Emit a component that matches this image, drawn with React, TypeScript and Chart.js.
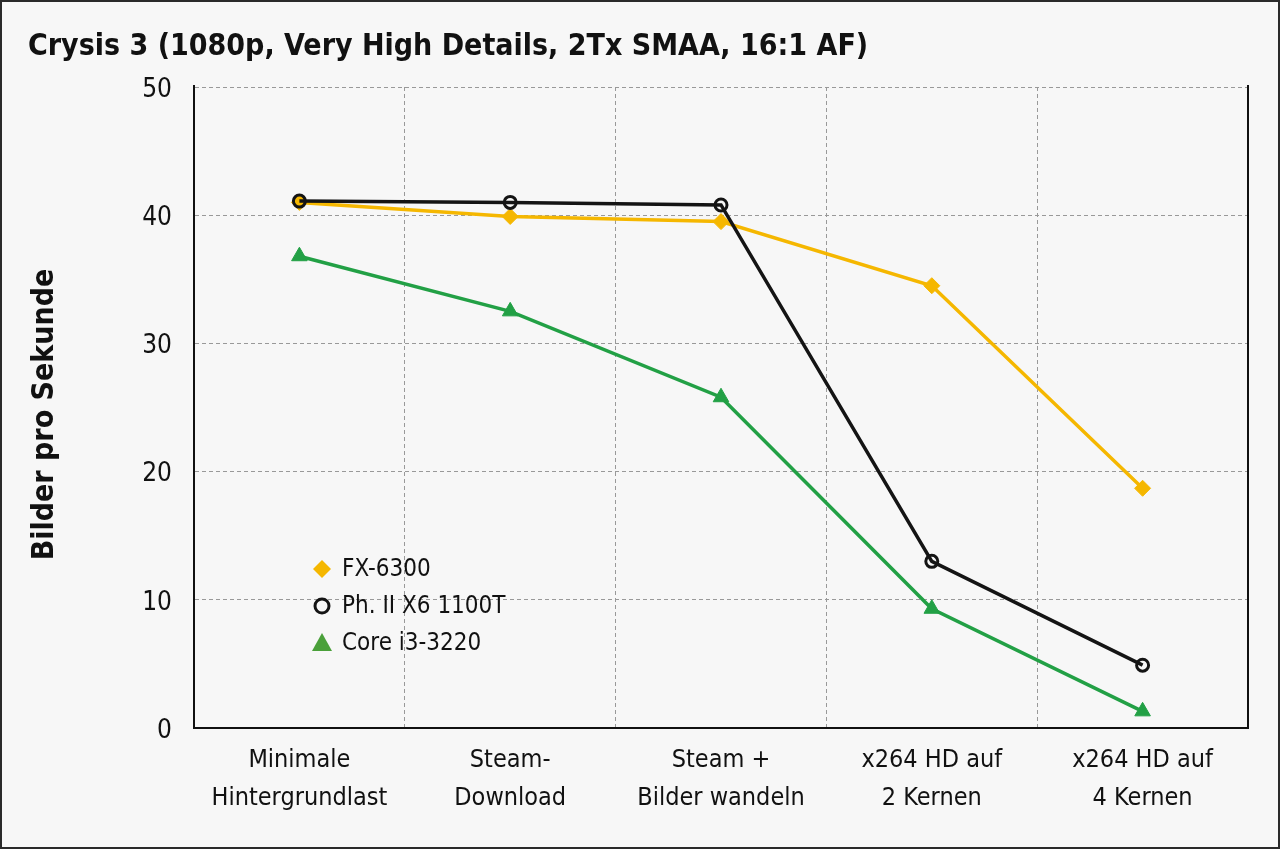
import React, { useEffect, useRef } from "react";
import { Chart, registerables } from "chart.js";

Chart.register(...registerables);

const TITLE = "Crysis 3 (1080p, Very High Details, 2Tx SMAA, 16:1 AF)";
const Y_TITLE = "Bilder pro Sekunde";
const CATEGORIES: string[][] = [
  ["Minimale", "Hintergrundlast"],
  ["Steam-", "Download"],
  ["Steam +", "Bilder wandeln"],
  ["x264 HD auf", "2 Kernen"],
  ["x264 HD auf", "4 Kernen"],
];
const SERIES_NAMES = ["FX-6300", "Ph. II X6 1100T", "Core i3-3220"];
const FX_6300 = [41.0, 39.9, 39.5, 34.5, 18.7];
const PH_II_X6 = [41.1, 41.0, 40.8, 13.0, 4.9];
const CORE_I3 = [36.8, 32.5, 25.8, 9.3, 1.3];
const Y_MIN = 0;
const Y_MAX = 50;
const Y_STEP = 10;

const FONT = '"Liberation Sans Narrow", "DejaVu Sans Condensed", "Arial Narrow", sans-serif';
const YELLOW = "#f5b700";
const BLACK = "#141414";
const GREEN = "#22a045";
const BG = "#f7f7f7";

export default function App() {
  const ref = useRef<HTMLCanvasElement | null>(null);

  useEffect(() => {
    document.body.style.margin = "0";
    const canvas = ref.current;
    if (!canvas) return;

    const titlePlugin = {
      id: "topTitle",
      afterDraw(chart: any) {
        const { ctx, chartArea: a } = chart;
        ctx.save();
        ctx.font = `bold 30px ${FONT}`;
        ctx.textBaseline = "alphabetic";
        ctx.textAlign = "left";
        ctx.fillStyle = "#111";
        ctx.fillText(TITLE, 26, 53);
        ctx.translate(43, (a.top + a.bottom) / 2 + 7);
        ctx.rotate(-Math.PI / 2);
        ctx.textAlign = "center";
        ctx.textBaseline = "middle";
        ctx.fillText(Y_TITLE, 0, 0);
        ctx.restore();
      },
    };

    const framePlugin = {
      id: "frame",
      beforeDatasetsDraw(chart: any) {
        const { ctx, chartArea: a } = chart;
        ctx.save();
        ctx.strokeStyle = "#111";
        ctx.lineWidth = 2;
        ctx.beginPath();
        ctx.moveTo(a.left, a.top - 2);
        ctx.lineTo(a.left, a.bottom);
        ctx.lineTo(a.right, a.bottom);
        ctx.lineTo(a.right, a.top - 2);
        ctx.stroke();
        ctx.restore();
      },
    };

    const legendPlugin = {
      id: "innerLegend",
      afterDraw(chart: any) {
        const { ctx, chartArea: a } = chart;
        const x0 = a.left + 128;
        const y0 = a.bottom - 159;
        ctx.save();
        ctx.font = `24px ${FONT}`;
        ctx.textBaseline = "middle";
        ctx.textAlign = "left";
        chart.data.datasets.forEach((ds: any, i: number) => {
          const y = y0 + i * 37;
          ctx.beginPath();
          if (ds.pointStyle === "rectRot") {
            const r = 9;
            ctx.moveTo(x0, y - r);
            ctx.lineTo(x0 + r, y);
            ctx.lineTo(x0, y + r);
            ctx.lineTo(x0 - r, y);
            ctx.closePath();
            ctx.fillStyle = ds.pointBackgroundColor;
            ctx.fill();
          } else if (ds.pointStyle === "circle") {
            ctx.arc(x0, y, 7, 0, Math.PI * 2);
            ctx.lineWidth = 3;
            ctx.strokeStyle = ds.pointBorderColor;
            ctx.stroke();
          } else {
            ctx.moveTo(x0, y - 10);
            ctx.lineTo(x0 + 10, y + 8);
            ctx.lineTo(x0 - 10, y + 8);
            ctx.closePath();
            ctx.fillStyle = "#4aa03a";
            ctx.fill();
          }
          ctx.fillStyle = "#111";
          ctx.fillText(ds.label, x0 + 20, y + 1);
        });
        ctx.restore();
      },
    };

    const chart = new Chart(canvas, {
      type: "line",
      data: {
        labels: CATEGORIES,
        datasets: [
          {
            label: SERIES_NAMES[0],
            data: FX_6300,
            borderColor: YELLOW,
            backgroundColor: YELLOW,
            borderWidth: 3.5,
            pointStyle: "rectRot",
            pointRadius: 8,
            pointBackgroundColor: YELLOW,
            pointBorderColor: YELLOW,
            pointBorderWidth: 1,
            order: 1,
          },
          {
            label: SERIES_NAMES[1],
            data: PH_II_X6,
            borderColor: BLACK,
            backgroundColor: "rgba(0,0,0,0)",
            borderWidth: 3.5,
            pointStyle: "circle",
            pointRadius: 6,
            pointBackgroundColor: "rgba(0,0,0,0)",
            pointBorderColor: BLACK,
            pointBorderWidth: 3,
            order: 0,
          },
          {
            label: SERIES_NAMES[2],
            data: CORE_I3,
            borderColor: GREEN,
            backgroundColor: GREEN,
            borderWidth: 3.5,
            pointStyle: "triangle",
            pointRadius: 9,
            pointBackgroundColor: GREEN,
            pointBorderColor: GREEN,
            pointBorderWidth: 1,
            order: 2,
          },
        ],
      },
      options: {
        animation: false,
        responsive: false,
        maintainAspectRatio: false,
        layout: { padding: { left: 0, right: 30, top: 85, bottom: 0 } },
        plugins: {
          legend: { display: false },
          tooltip: { enabled: false },
          title: { display: false },
        },
        scales: {
          x: {
            type: "category",
            offset: true,
            grid: {
              offset: true,
              drawTicks: false,
              color: "#999999",
              lineWidth: 1,
            },
            border: { display: true, color: "#111", width: 2, dash: [4, 3] },
            ticks: {
              color: "#111",
              font: { family: FONT, size: 25, lineHeight: 1.5 },
              padding: 14,
              maxRotation: 0,
              autoSkip: false,
            },
            afterFit(scale: any) {
              scale.height = 119;
            },
          },
          y: {
            min: Y_MIN,
            max: Y_MAX,
            grid: { drawTicks: false, color: "#999999", lineWidth: 1 },
            border: { display: true, color: "#111", width: 2, dash: [4, 3] },
            ticks: {
              stepSize: Y_STEP,
              color: "#111",
              font: { family: FONT, size: 26 },
              padding: 22,
              labelOffset: 3,
            },
            title: { display: false },
            afterFit(scale: any) {
              scale.width = 192;
            },
          },
        },
      },
      plugins: [framePlugin, legendPlugin, titlePlugin],
    });

    return () => chart.destroy();
  }, []);

  return (
    <div
      style={{
        position: "fixed",
        left: 0,
        top: 0,
        width: 1280,
        height: 849,
        boxSizing: "border-box",
        border: "2px solid #2a2a2a",
        background: BG,
      }}
    >
      <canvas ref={ref} width={1276} height={845} style={{ display: "block" }} />
    </div>
  );
}
